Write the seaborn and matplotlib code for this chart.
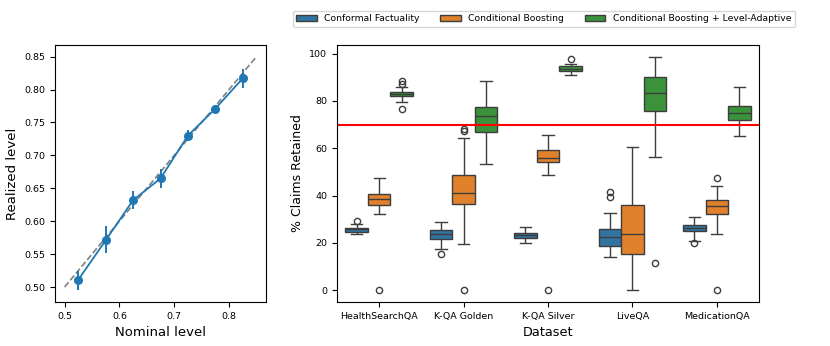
import pandas as pd
import matplotlib
matplotlib.use("Agg")
import matplotlib.pyplot as plt
import seaborn as sns

# Left panel: calibration of the level-adaptive method
nominal = [0.525, 0.575, 0.625, 0.675, 0.725, 0.775, 0.825]
realized = [0.511, 0.571, 0.632, 0.665, 0.730, 0.771, 0.817]
err_low = [0.495, 0.551, 0.618, 0.651, 0.724, 0.766, 0.803]
err_high = [0.525, 0.592, 0.646, 0.679, 0.738, 0.777, 0.832]

# Right panel: % claims retained per dataset and method
datasets = ["HealthSearchQA", "K-QA Golden", "K-QA Silver", "LiveQA", "MedicationQA"]
methods = ["Conformal Factuality", "Conditional Boosting",
           "Conditional Boosting + Level-Adaptive"]

conformal_factuality = [
    [23.6, 23.6, 23.6, 24.7, 25.2, 25.5, 25.7, 25.9, 26.2, 26.4, 27.0, 28.2, 29.3],
    [15.3, 17.4, 17.4, 21.6, 22.5, 23.1, 23.7, 24.2, 24.8, 25.4, 26.5, 29.0, 29.0],
    [20.2, 20.2, 21.0, 22.3, 22.7, 23.0, 23.3, 23.7, 24.0, 24.4, 25.5, 26.8, 26.8],
    [14.1, 14.1, 16.0, 18.9, 20.1, 21.5, 22.7, 23.8, 24.8, 25.7, 32.8, 39.4, 41.4],
    [19.9, 21.0, 23.0, 24.9, 25.4, 25.9, 26.3, 26.8, 27.3, 27.8, 29.0, 30.9, 30.9],
]
conditional_boosting = [
    [0.0, 32.3, 34.5, 36.2, 37.0, 37.8, 38.4, 39.2, 40.0, 40.8, 43.0, 47.3, 47.3],
    [0.0, 19.5, 28.0, 36.6, 38.5, 40.0, 41.2, 43.5, 46.0, 48.7, 64.3, 67.3, 68.0],
    [0.0, 48.6, 51.0, 54.0, 54.8, 55.3, 55.8, 56.8, 58.0, 59.2, 62.0, 65.8, 65.8],
    [0.0, 0.0, 8.0, 15.4, 18.0, 21.0, 23.7, 28.0, 32.0, 36.2, 45.0, 60.5, 60.5],
    [0.0, 24.0, 28.0, 32.1, 33.5, 34.8, 35.7, 36.5, 37.2, 38.0, 41.0, 44.2, 47.5],
]
level_adaptive = [
    [76.8, 79.5, 80.5, 81.9, 82.3, 82.6, 82.9, 83.2, 83.5, 83.7, 85.7, 87.0, 88.3],
    [53.2, 53.2, 60.0, 66.8, 69.0, 71.5, 73.6, 74.8, 76.0, 77.3, 82.0, 88.4, 88.4],
    [91.0, 91.0, 92.0, 92.8, 93.1, 93.4, 93.6, 93.9, 94.2, 94.6, 95.2, 95.8, 97.6],
    [11.6, 56.5, 66.0, 75.6, 78.0, 81.0, 83.2, 85.5, 88.0, 90.0, 94.0, 98.7, 98.7],
    [65.1, 65.1, 68.5, 71.8, 73.0, 74.0, 75.0, 76.0, 77.0, 78.0, 81.5, 85.7, 85.7],
]
target_level = 70

rows = []
for method, groups in zip(methods, [conformal_factuality, conditional_boosting, level_adaptive]):
    for ds, vals in zip(datasets, groups):
        for v in vals:
            rows.append({"Dataset": ds, "Method": method, "Retained": v})
df = pd.DataFrame(rows)

# plain matplotlib look: black spines, outward ticks
plt.rcParams["font.family"] = ["DejaVu Sans"]

fig = plt.figure(figsize=(8.3, 3.46), dpi=100)
ax1 = fig.add_axes([55 / 830, 44 / 346, 211 / 830, 257 / 346])
ax2 = fig.add_axes([337 / 830, 44 / 346, 422 / 830, 257 / 346])

# calibration plot
ax1.plot([0.5, 0.85], [0.5, 0.85], ls="--", color="gray", lw=1.2)
sns.lineplot(x=nominal, y=realized, ax=ax1, color="#1f77b4", marker="o",
             markersize=6.5, markeredgewidth=0, lw=1.3)
yerr = [[r - lo for r, lo in zip(realized, err_low)],
        [hi - r for r, hi in zip(realized, err_high)]]
ax1.errorbar(nominal, realized, yerr=yerr, fmt="none", ecolor="#1f77b4", elinewidth=1.4)
ax1.set_xticks([0.5, 0.6, 0.7, 0.8])
ax1.set_yticks([0.50, 0.55, 0.60, 0.65, 0.70, 0.75, 0.80, 0.85])
ax1.set_xlabel("Nominal level", fontsize=9.5)
ax1.set_ylabel("Realized level", fontsize=9.5)
ax1.tick_params(labelsize=6.8)

# retained claims
sns.boxplot(data=df, x="Dataset", y="Retained", hue="Method", ax=ax2,
            linewidth=1.0, fliersize=4.5)
ax2.axhline(target_level, color="red", lw=1.5)
ax2.set_xlabel("Dataset", fontsize=9.3)
ax2.set_ylabel("% Claims Retained", fontsize=9.0)
ax2.set_yticks([0, 20, 40, 60, 80, 100])
ax2.tick_params(labelsize=6.8)
ax2.legend(ncol=3, loc="lower center", bbox_to_anchor=(0.49, 1.07),
           borderaxespad=0, fontsize=6.7, handlelength=2.2, columnspacing=2.2)

fig.savefig("out.png", dpi=100)
